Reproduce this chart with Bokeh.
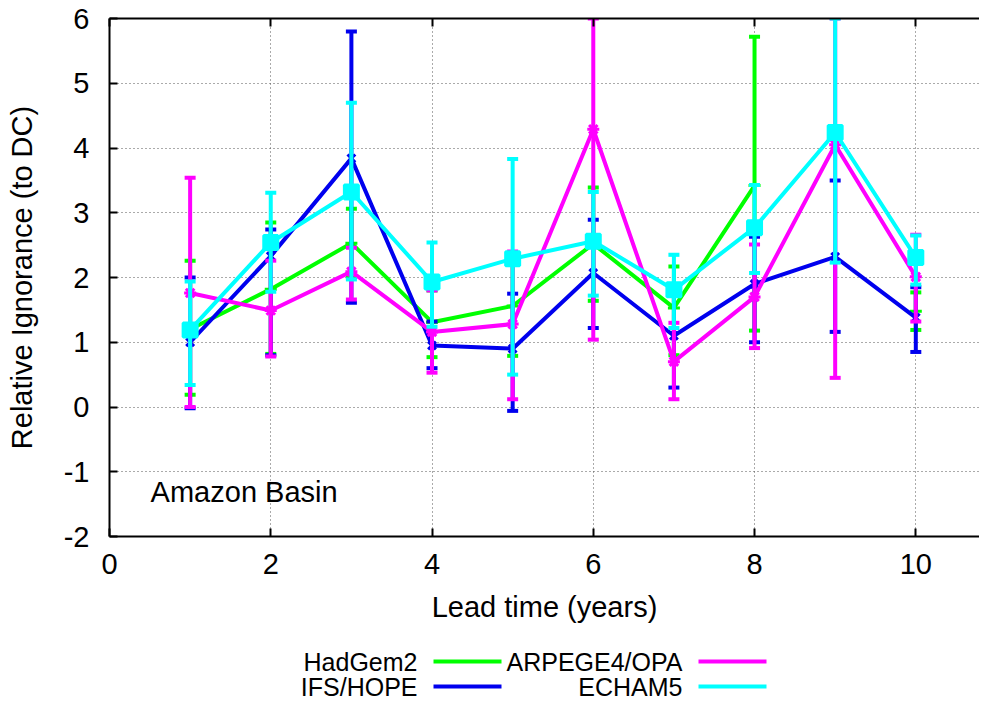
import numpy as np
from bokeh.plotting import figure
from bokeh.models import Range1d, LinearAxis, FixedTicker, Label, CustomJSTickFormatter
from bokeh.layouts import column
from bokeh.embed import file_html
from bokeh.resources import INLINE
from bokeh.core.properties import value

# ---------------- data ----------------
years = [1, 2, 3, 4, 5, 6, 7, 8, 9, 10]

had_mean = [1.20, 1.82, 2.53, 1.31, 1.56, 2.52, 1.53, 3.42, np.nan, 1.48]
had_low  = [0.19, 0.82, 2.00, 0.77, 0.79, 1.64, 0.80, 1.18, np.nan, 1.19]
had_high = [2.26, 2.85, 3.06, 1.80, 2.30, 3.39, 2.17, 5.72, np.nan, 1.77]

ifs_mean = [1.00, 2.33, 3.84, 0.95, 0.90, 2.07, 1.10, 1.90, 2.32, 1.38]
ifs_low  = [-0.02, 0.80, 1.61, 0.60, -0.06, 1.22, 0.30, 1.00, 1.16, 0.85]
ifs_high = [2.00, 2.74, 5.80, 1.32, 1.75, 2.89, 1.90, 2.63, 3.50, 1.85]

arp_mean = [1.76, 1.49, 2.09, 1.16, 1.28, 4.29, 0.70, 1.70, 4.05, 2.01]
arp_low  = [0.00, 0.78, 1.66, 0.53, 0.12, 1.04, 0.12, 0.91, 0.45, 1.32]
arp_high = [3.54, 2.26, 2.46, 1.80, 2.40, 6.00, 1.30, 2.51, 6.00, 2.66]

ech_mean = [1.19, 2.54, 3.32, 1.93, 2.29, 2.56, 1.81, 2.77, 4.24, 2.31]
ech_low  = [0.34, 1.78, 1.97, 1.24, 0.50, 1.72, 1.22, 2.07, 2.23, 1.89]
ech_high = [1.94, 3.31, 4.70, 2.54, 3.83, 3.32, 2.35, 3.43, 6.00, 2.65]

series_names = ["HadGem2", "IFS/HOPE", "ARPEGE4/OPA", "ECHAM5"]
series_colors = ["#00ff00", "#0000ee", "#ff00ff", "#00ffff"]

x_ticks = [0, 2, 4, 6, 8, 10]
y_ticks = [-2, -1, 0, 1, 2, 3, 4, 5, 6]
y_tick_labels = ["-2", "-1", "0", "1", "2", "3", "4", "5", "6"]

FONT = "Liberation Sans"

# ---------------- main figure ----------------
p = figure(width=979, height=636, output_backend="svg", toolbar_location=None,
           x_range=Range1d(0, 10.79), y_range=Range1d(-2, 6),
           min_border_left=109, min_border_right=0, min_border_top=18,
           min_border_bottom=100)
p.outline_line_color = None
p.background_fill_color = "white"
p.border_fill_color = "white"

xt = FixedTicker(ticks=x_ticks)
yt = FixedTicker(ticks=y_ticks)

def style_axis(ax):
    ax.axis_line_color = "black"
    ax.axis_line_width = 2
    ax.major_tick_line_color = "black"
    ax.major_tick_line_width = 2
    ax.major_tick_in = 8
    ax.major_tick_out = 0
    ax.minor_tick_line_color = None
    ax.major_label_text_font = FONT
    ax.major_label_text_font_size = "29px"
    ax.major_label_text_color = "black"
    ax.axis_label_text_font = FONT
    ax.axis_label_text_font_size = "29px"
    ax.axis_label_text_font_style = "normal"
    ax.axis_label_text_color = "black"

xa = p.xaxis[0]
xa.ticker = xt
style_axis(xa)
xa.axis_label = "Lead time (years)"
xa.major_label_standoff = 17
xa.axis_label_standoff = 14

ya = p.yaxis[0]
ya.ticker = yt
style_axis(ya)
ya.major_label_overrides = dict(zip(y_ticks, y_tick_labels))
ya.axis_label = "Relative Ignorance (to DC)"
ya.major_label_standoff = 20
ya.axis_label_standoff = 23

top = LinearAxis(ticker=xt, formatter=CustomJSTickFormatter(code="return '';"))
style_axis(top)
top.major_label_standoff = 0
p.add_layout(top, "above")

for g in (p.xgrid[0], p.ygrid[0]):
    g.grid_line_color = "#555555"
    g.grid_line_dash = "1 3"
    g.grid_line_width = 1
p.xgrid[0].ticker = xt
p.ygrid[0].ticker = yt

all_series = [
    (had_mean, had_low, had_high, "cross", 12),
    (ifs_mean, ifs_low, ifs_high, "x", 11),
    (arp_mean, arp_low, arp_high, "asterisk", 12),
    (ech_mean, ech_low, ech_high, "square", 14),
]

for (mean, low, high, marker, msize), color in zip(all_series, series_colors):
    p.segment(x0=years, y0=low, x1=years, y1=high, line_color=color, line_width=4)
    p.scatter(years, low, marker="dash", size=11, line_width=4, line_color=color)
    p.scatter(years, high, marker="dash", size=11, line_width=4, line_color=color)
    p.line(years, mean, line_color=color, line_width=4)
    p.scatter(years, mean, marker=marker, size=msize, line_width=3,
              line_color=color, fill_color=color)

p.add_layout(Label(x=0.51, y=-1.32, text="Amazon Basin", text_font=FONT,
                   text_font_size="29px", text_color="black",
                   text_baseline="alphabetic", text_align="left"))

# ---------------- legend figure (x in figure pixels) ----------------
leg = figure(width=979, height=65, output_backend="svg", toolbar_location=None,
             x_range=Range1d(109, 979), y_range=Range1d(65, 0),
             x_axis_type=None, y_axis_type=None,
             min_border_left=109, min_border_right=0,
             min_border_top=0, min_border_bottom=0)
leg.outline_line_color = None
leg.xgrid.visible = False
leg.ygrid.visible = False

text_right = [417, 417, 682, 682]
row_y = [25, 50, 25, 50]
leg.text(x=text_right, y=row_y, text=series_names, text_align="right",
         text_baseline="middle", text_font=value(FONT), text_font_size="25px",
         text_color="black")
seg_x0 = [t + 16 for t in text_right]
seg_x1 = [t + 84 for t in text_right]
leg.segment(x0=seg_x0, y0=row_y, x1=seg_x1, y1=row_y,
            line_color=series_colors, line_width=4)

layout = column(p, leg, spacing=0)

open("out.html", "w").write(file_html(layout, INLINE))
